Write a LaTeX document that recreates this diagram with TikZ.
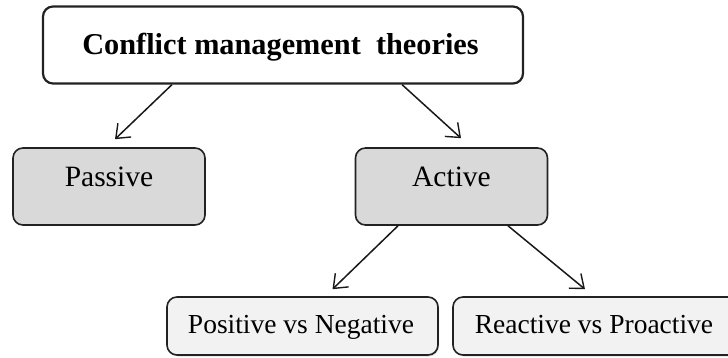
\documentclass[tikz,border=0pt]{standalone}
\usepackage{fontspec}
\setmainfont{Liberation Serif}
\usetikzlibrary{arrows.meta,calc,shadows}
\definecolor{midgray}{HTML}{D9D9D9}
\definecolor{lightgray}{HTML}{F2F2F2}
\definecolor{edgec}{HTML}{222222}
\begin{document}
\begin{tikzpicture}[x=1pt,y=-1pt,
  box/.style={draw=edgec,rounded corners=10pt,line width=1.6pt,inner sep=0pt},
  topbox/.style={box,line width=2.2pt,fill=white,minimum width=480pt,minimum height=77pt},
  midbox/.style={box,fill=midgray,minimum width=192pt,minimum height=77pt},
  lowbox/.style={box,fill=lightgray,minimum width=271pt,minimum height=58pt,
     drop shadow={shadow xshift=1pt,shadow yshift=-1.5pt,opacity=0.25}},
  toptext/.style={anchor=base,font=\fontsize{30.3}{34}\selectfont\bfseries},
  midtext/.style={anchor=base,font=\fontsize{29.5}{33}\selectfont},
  lowtext/.style={anchor=base,font=\fontsize{27.5}{31}\selectfont},
  arr/.style={-{Straight Barb[length=12pt,width=19pt,line width=1.4pt]},line width=1.5pt,draw=black!90}
]
\useasboundingbox (0,0) rectangle (728,358);
\clip (0,0) rectangle (728,358);
\node[topbox] (top) at (283,45) {};
\node[toptext] (toplbl) at (280.5,55) {Conflict management\ \ theories};
\node[midbox] (passive) at (109,186.5) {};
\node[midtext] (passivelbl) at (109,187) {Passive};
\node[midbox] (active) at (451.5,186.5) {};
\node[midtext] (activelbl) at (451.5,187) {Active};
\node[lowbox] (posneg) at (302.5,326) {};
\node[lowtext] (posneglbl) at (301,333) {Positive vs Negative};
\node[lowbox,minimum width=287pt] (reapro) at (596.5,326) {};
\node[lowtext] (reaprolbl) at (594,333) {Reactive vs Proactive};
\coordinate (a1s) at ([xshift=-111pt]top.south);
\coordinate (a1e) at ([xshift=6pt,yshift=8pt]passive.north);
\coordinate (a2s) at ([xshift=119pt]top.south);
\coordinate (a2e) at ([xshift=9.5pt,yshift=9pt]active.north);
\coordinate (a3s) at ([xshift=-53.5pt]active.south);
\coordinate (a3e) at ([xshift=30pt,yshift=7pt]posneg.north);
\coordinate (a4s) at ([xshift=56.5pt]active.south);
\coordinate (a4e) at ([xshift=-11.5pt,yshift=7pt]reapro.north);
\draw[arr] (a1s) -- (a1e);
\draw[arr] (a2s) -- (a2e);
\draw[arr] (a3s) -- (a3e);
\draw[arr] (a4s) -- (a4e);
\end{tikzpicture}
\end{document}
